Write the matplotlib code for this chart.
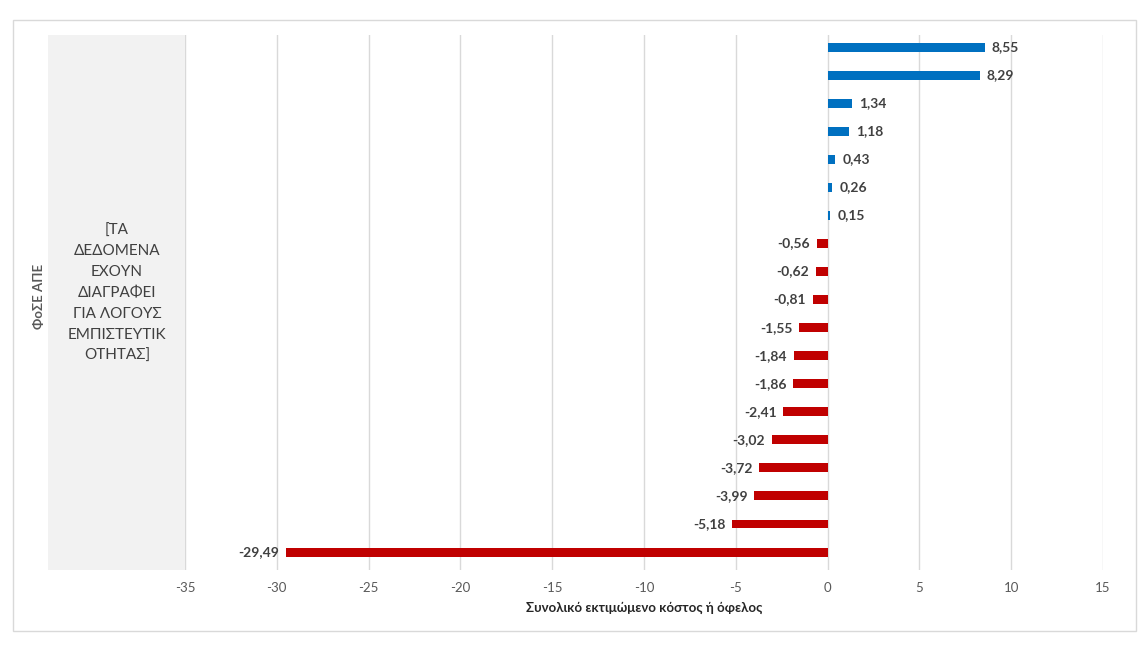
import matplotlib
matplotlib.use("Agg")
import matplotlib.pyplot as plt
from matplotlib.patches import Rectangle

plt.rcParams['font.family'] = ['Lato', 'DejaVu Sans']

categories = [f"ΦοΣΕ {i}" for i in range(1, 20)]
values = [8.55, 8.29, 1.34, 1.18, 0.43, 0.26, 0.15, -0.56, -0.62, -0.81,
          -1.55, -1.84, -1.86, -2.41, -3.02, -3.72, -3.99, -5.18, -29.49]
xticks = [-35, -30, -25, -20, -15, -10, -5, 0, 5, 10, 15]
xlabel = "Συνολικό εκτιμώμενο κόστος ή όφελος"
ylabel = "ΦοΣΕ ΑΠΕ"
redacted = "[ΤΑ\nΔΕΔΟΜΕΝΑ\nΕΧΟΥΝ\nΔΙΑΓΡΑΦΕΙ\nΓΙΑ ΛΟΓΟΥΣ\nΕΜΠΙΣΤΕΥΤΙΚ\nΟΤΗΤΑΣ]"

W, H = 1146, 649
fig = plt.figure(figsize=(W / 100, H / 100), dpi=100)

# outer frame
fig.patches.append(Rectangle((13 / W, 1 - 631 / H), (1136 - 13) / W, (631 - 20) / H,
                             transform=fig.transFigure, fill=False,
                             edgecolor='#d9d9d9', linewidth=1))
# gray redaction box
fig.patches.append(Rectangle((48 / W, 1 - 570 / H), (185 - 48) / W, (570 - 35) / H,
                             transform=fig.transFigure, facecolor='#f2f2f2',
                             edgecolor='none'))
fig.text(117 / W, 1 - 293 / H, redacted, ha='center', va='center',
         fontsize=11, color='#404040', linespacing=1.62)
fig.text(39 / W, 1 - 296 / H, ylabel, rotation=90, ha='center', va='center',
         fontsize=9.5, color='#595959', fontweight='bold')

ax = fig.add_axes([185 / W, 1 - 570 / H, (1103 - 185) / W, (570 - 35) / H])
ypos = list(range(len(values)))
colors = ['#0070c0' if v >= 0 else '#c00000' for v in values]
ax.barh(ypos, values, height=0.32, color=colors, zorder=3)
ax.set_ylim(18.64, -0.43)
ax.set_xlim(-35, 15)
ax.set_xticks(xticks)
ax.set_xticklabels([str(t) for t in xticks], fontsize=9.5, color='#595959')
ax.set_yticks([])
ax.tick_params(axis='x', length=0, pad=9)
ax.grid(axis='x', color='#d9d9d9', linewidth=1, zorder=0)
for s in ax.spines.values():
    s.set_visible(False)

for y, v in zip(ypos, values):
    txt = f"{v:.2f}".replace('.', ',')
    if v >= 0:
        ax.annotate(txt, (v, y), xytext=(5, 0), textcoords='offset points',
                    ha='left', va='center', fontsize=10, color='#404040',
                    fontweight='bold')
    else:
        ax.annotate(txt, (v, y), xytext=(-5, 0), textcoords='offset points',
                    ha='right', va='center', fontsize=10, color='#404040',
                    fontweight='bold')

ax.set_xlabel(xlabel, fontsize=9.5, fontweight='bold', color='#262626', labelpad=5)

fig.savefig("out.png", dpi=100)
